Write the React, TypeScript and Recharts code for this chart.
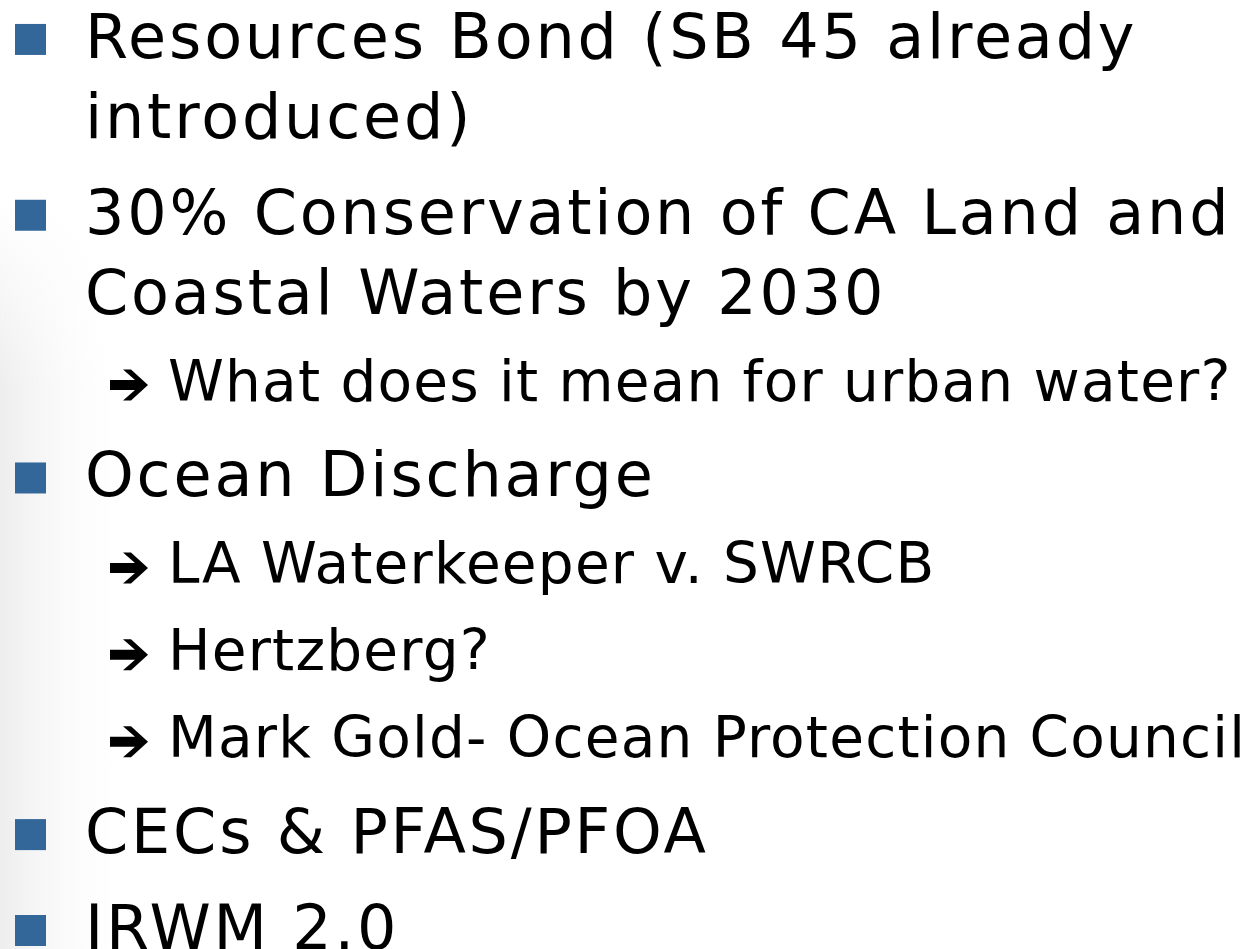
import React from 'react';
import {Scatter, ScatterChart, XAxis, YAxis} from 'recharts';

// slide outline: level 0 = square bullet, 1 = arrow sub-bullet; each entry is one paragraph
const bulletLevels: number[] = [0, 0, 1, 0, 1, 1, 1, 0, 0];
const bulletLines: string[][] = [
    ['Resources Bond (SB 45 already', 'introduced)'],
    ['30% Conservation of CA Land and', 'Coastal Waters by 2030'],
    ['What does it mean for urban water?'],
    ['Ocean Discharge'],
    ['LA Waterkeeper v. SWRCB'],
    ['Hertzberg?'],
    ['Mark Gold- Ocean Protection Council'],
    ['CECs & PFAS/PFOA'],
    ['IRWM 2.0'],
];

const W = 1250;
const H = 949;
const BLUE = '#336699';

type Row = { x: number, y: number, text: string, level: number, first: boolean };

function layout(): Row[] {
    const rows: Row[] = [];
    let y = 58;
    bulletLines.forEach((lines, p) => {
        const level = bulletLevels[p];
        lines.forEach((text, i) => {
            if (p > 0 || i > 0) {
                y += i > 0 ? 80 : (level === 0 ? 96 : 87);
            }
            rows.push({x: level === 0 ? 85 : 168, y, text, level, first: i === 0});
        });
    });
    return rows;
}

function Line(props: any): React.JSX.Element {
    const {cx, cy, payload} = props;
    const r: Row = payload;
    const main = r.level === 0;
    return (
        <g>
            {r.first && main && (
                <rect x={cx - 70} y={cy - 34} width={31} height={31} fill={BLUE}/>
            )}
            {r.first && !main && (
                <path
                    d={`M${cx - 58},${cy - 20.5} L${cx - 33},${cy - 20.5} L${cx - 45},${cy - 31}
                        L${cx - 37},${cy - 31} L${cx - 20},${cy - 15.5} L${cx - 37},${cy}
                        L${cx - 45},${cy} L${cx - 33},${cy - 10.5} L${cx - 58},${cy - 10.5} Z`}
                    fill="#000"
                />
            )}
            <text x={cx} y={cy} fontFamily="'DejaVu Sans', Verdana, sans-serif"
                  fontSize={main ? 62 : 56.5} letterSpacing={main ? 2.8 : 1.2} fill="#000">
                {r.text}
            </text>
        </g>
    );
}

export default function App(): React.JSX.Element {
    const rows = layout();
    return (
        <div style={{position: 'absolute', left: 0, top: 0, width: W, height: H, overflow: 'hidden', background: '#fff'}}>
            <ScatterChart width={W} height={H} margin={{top: 0, right: 0, bottom: 0, left: 0}}>
                <defs>
                    <linearGradient id="bgFade" x1="0" y1="0" x2="1" y2="0">
                        <stop offset="0%" stopColor="#e6e6e6" stopOpacity={0.7}/>
                        <stop offset="40%" stopColor="#f0f0f0" stopOpacity={0.45}/>
                        <stop offset="100%" stopColor="#ffffff" stopOpacity={0}/>
                    </linearGradient>
                    <linearGradient id="bgMaskGrad" x1="0" y1="0" x2="0" y2="1">
                        <stop offset="0%" stopColor="#000"/>
                        <stop offset="25%" stopColor="#fff"/>
                        <stop offset="100%" stopColor="#fff"/>
                    </linearGradient>
                    <mask id="bgMask">
                        <rect x={0} y={200} width={130} height={H - 200} fill="url(#bgMaskGrad)"/>
                    </mask>
                </defs>
                <rect x={0} y={200} width={130} height={H - 200} fill="url(#bgFade)" mask="url(#bgMask)"/>
                <XAxis type="number" dataKey="x" domain={[0, W]} hide/>
                <YAxis type="number" dataKey="y" domain={[0, H]} reversed hide/>
                <Scatter data={rows} shape={<Line/>} isAnimationActive={false}/>
            </ScatterChart>
        </div>
    );
}
